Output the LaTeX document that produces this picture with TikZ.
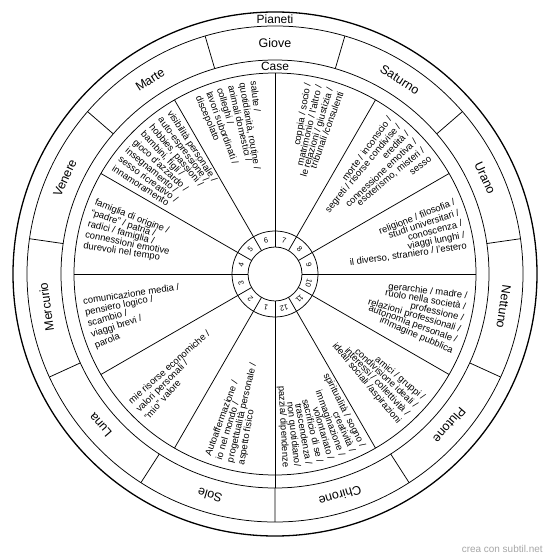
\documentclass[tikz,border=0pt]{standalone}
\usepackage{fontspec}
\setmainfont{Liberation Sans}
\usepackage{tikz}

\begin{document}
\begin{tikzpicture}[x=1bp,y=1bp,line width=0.75bp]
\tikzstyle{every node}=[font=\fontsize{9.5}{11}\selectfont, inner sep=0pt]
\tikzstyle{planet}=[font=\fontsize{12.5}{14}\selectfont]
\tikzstyle{ringtitle}=[font=\fontsize{12}{14}\selectfont]
\tikzstyle{num}=[font=\fontsize{7.5}{8}\selectfont]
\tikzstyle{houseL}=[anchor=west, text height=7bp, text depth=2bp]
\tikzstyle{houseR}=[anchor=east, text height=7bp, text depth=2bp]

\useasboundingbox (-275,-286) rectangle (275,274);

% Draw circles
\draw [line width=1.3bp] (0,0) circle (262);
\foreach \r in {248, 214, 201, 43, 27} {
    \draw (0,0) circle (\r);
}

% Draw house lines
\foreach \a in {0,30,...,330} {
    \draw (\a:27) -- (\a:201);
}
\draw (270:201) -- (270:214);

% Draw planet dividers
\foreach \k in {0,...,10} {
    \draw ({73.636-32.727*\k}:214) -- ({73.636-32.727*\k}:248);
}

% Planet names
\foreach \p [count=\k from 0] in {Giove, Saturno, Urano, Nettuno, Plutone, Chirone, Sole, Luna, Mercurio, Venere, Marte} {
    \node [planet, rotate={-32.727*\k}] (\p) at ({90-32.727*\k}:231) {\p};
}

% Ring titles
\node [ringtitle] (pianeti) at (90:255) {Pianeti};
\node [ringtitle] (case) at (90:208) {Case};

% House numbers
\foreach \n [count=\k from 0] in {9,8,7,6,5,4,3,2,1,12,11,10} {
    \node [num, rotate={30*\k-75}] (n\n) at ({15+30*\k}:35) {\n};
}

% House texts, right half (one line per ray)
\foreach \t [count=\i from 0] in {coppia / socio /, matrimonio / l'altro /, le relazioni / giustizia /, tribunali /consulenti} {
    \node [houseR, rotate={75-(\i-1.5)*3.4}] (h7-\i) at ({75-(\i-1.5)*3.4}:194) {\t};
}
\foreach \t [count=\i from 0] in {morte / inconscio /, segreti / risorse condivise /, eredità /, connessione emotiva /, {esoterismo, misteri /}, sesso} {
    \node [houseR, rotate={45-(\i-2.5)*3.4}] (h8-\i) at ({45-(\i-2.5)*3.4}:194) {\t};
}
\foreach \t [count=\i from 0] in {religione / filosofia /, studi universitari /, conoscenza /, viaggi lunghi /, {il diverso, straniero / l'estero}} {
    \node [houseR, rotate={15-(\i-2)*3.4}] (h9-\i) at ({15-(\i-2)*3.4}:194) {\t};
}
\foreach \t [count=\i from 0] in {gerarchie / madre /, ruolo nella società /, professione /, relazioni professionali /, autonomia personale /, immagine pubblica} {
    \node [houseR, rotate={-15-(\i-2.5)*3.4}] (h10-\i) at ({-15-(\i-2.5)*3.4}:194) {\t};
}
\foreach \t [count=\i from 0] in {amici / gruppi /, condivisione ideali /, interessi / collettività /, ideali sociali /aspirazioni} {
    \node [houseR, rotate={-45-(\i-1.5)*3.4}] (h11-\i) at ({-45-(\i-1.5)*3.4}:194) {\t};
}
\foreach \t [count=\i from 0] in {spiritualità / sogno /, creatività /, immaginazione /, volontariato /, sacrificio di se /, trascendenza /, non quotidiano/, pazzia/ dipendenze} {
    \node [houseR, rotate={-75-(\i-3.5)*3.4}] (h12-\i) at ({-75-(\i-3.5)*3.4}:194) {\t};
}

% House texts, left half (one line per ray)
\foreach \t [count=\i from 0] in {salute /, {quotidianità, routine /}, animali domestici /, colleghi /, lavori subordinati /, discepolato} {
    \node [houseL, rotate={-75+(\i-2.5)*3.4}] (h6-\i) at ({105+(\i-2.5)*3.4}:194) {\t};
}
\foreach \t [count=\i from 0] in {visibilità personale /, auto-espressione /, {hobbies, passioni /}, {bambini, figli /}, gioco d'azzardo /, insegnamento /, sesso ricreativo /, innamoramento} {
    \node [houseL, rotate={-45+(\i-3.5)*3.4}] (h5-\i) at ({135+(\i-3.5)*3.4}:194) {\t};
}
\foreach \t [count=\i from 0] in {famiglia di origine /, ``padre'' / patria /, radici / famiglia /, connessioni emotive, durevoli nel tempo} {
    \node [houseL, rotate={-15+(\i-2)*3.4}] (h4-\i) at ({165+(\i-2)*3.4}:194) {\t};
}
\foreach \t [count=\i from 0] in {comunicazione media /, pensiero logico /, scambio /, viaggi brevi /, parola} {
    \node [houseL, rotate={15+(\i-2)*3.4}] (h3-\i) at ({195+(\i-2)*3.4}:194) {\t};
}
\foreach \t [count=\i from 0] in {mie risorse economiche /, valori personali /, ``mio'' valore} {
    \node [houseL, rotate={45+(\i-1)*3.4}] (h2-\i) at ({225+(\i-1)*3.4}:194) {\t};
}
\foreach \t [count=\i from 0] in {Autoaffermazione /, io nel mondo /, progettualità personale /, aspetto fisico} {
    \node [houseL, rotate={75+(\i-1.5)*3.4}] (h1-\i) at ({255+(\i-1.5)*3.4}:194) {\t};
}

% Credit
\node [anchor=base east, text=gray!70, font=\fontsize{10}{12}\selectfont] (credit) at (268,-278) {crea con subtil.net};

\end{tikzpicture}
\end{document}
